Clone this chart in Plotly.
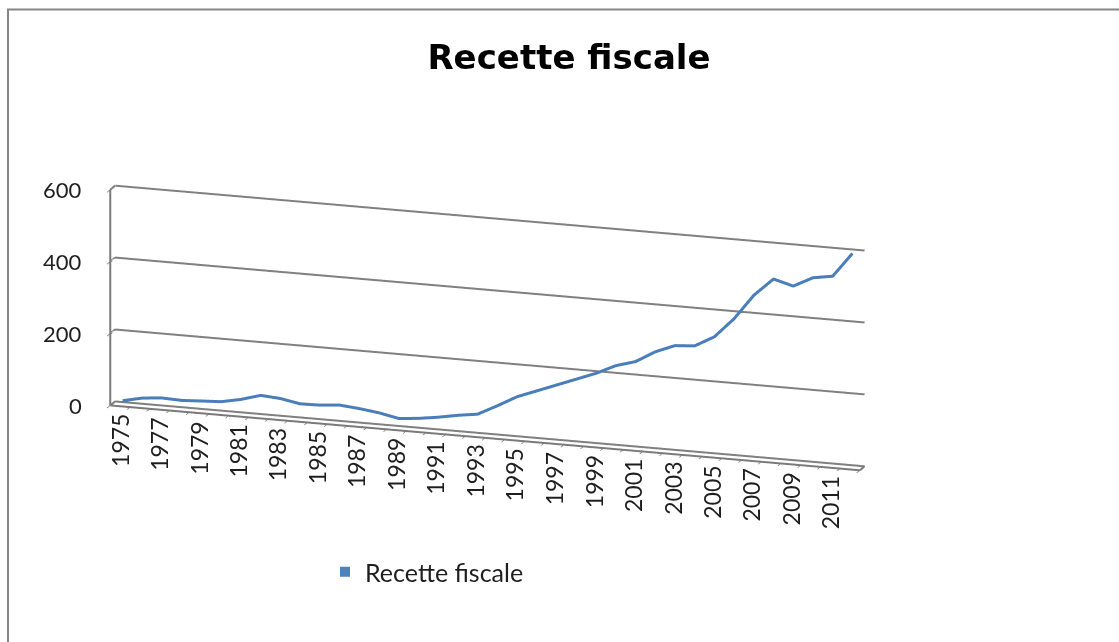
import plotly.graph_objects as go

# Tax revenue series, one value per year
years = list(range(1975, 2013))
recette_fiscale = [10, 22, 27, 25, 28, 31, 42, 58, 54, 44,
                   45, 50, 45, 38, 27, 32, 40, 50, 58, 86,
                   116, 137, 158, 179, 200, 226, 242, 274, 296, 300,
                   330, 385, 455, 505, 490, 518, 527, 595]
value_ticks = [0, 200, 400, 600]
labelled_years = [y for y in years if y % 2]   # every other year is labelled
series_name = "Recette fiscale"
title_text = "Recette fiscale"

W, H = 1119, 642
GRID = "#808080"
AXIS = "#7a7a7a"
LINE_BLUE = "#4A7EBB"
KEY_BLUE = "#4F81BD"
TEXT = "#1e1e1e"
year_font = dict(family="Lato, Calibri, sans-serif", size=23, color=TEXT)
value_font = dict(family="Lato, Calibri, sans-serif", size=22, color=TEXT)

x_lo, x_hi = years[0] - 0.5, years[-1] + 0.5        # category band edges
boundaries = [y - 0.5 for y in years] + [x_hi]       # tick marks between categories
DEPTH_FRONT, DEPTH_BACK, DEPTH_MID = 0.0, 1.0, 0.5

fig = go.Figure()

# horizontal gridlines: short run along the side wall, then across the back wall
gx, gy, gz = [], [], []
for v in value_ticks:
    gx += [x_lo, x_lo, x_hi, None]
    gy += [DEPTH_FRONT, DEPTH_BACK, DEPTH_BACK, None]
    gz += [v, v, v, None]
fig.add_trace(go.Scatter3d(x=gx, y=gy, z=gz, mode="lines",
                           line=dict(color=GRID, width=4),
                           connectgaps=False, showlegend=False, hoverinfo="skip"))

# floor slab outline and the vertical value axis
fx = [x_lo, x_hi, x_hi, None, x_lo, x_lo]
fy = [DEPTH_FRONT, DEPTH_FRONT, DEPTH_BACK, None, DEPTH_FRONT, DEPTH_FRONT]
fz = [0, 0, 0, None, 0, value_ticks[-1]]
fig.add_trace(go.Scatter3d(x=fx, y=fy, z=fz, mode="lines",
                           line=dict(color=AXIS, width=4),
                           connectgaps=False, showlegend=False, hoverinfo="skip"))

# the series ribbon, placed in the middle of the chart depth
fig.add_trace(go.Scatter3d(
    x=years, y=[DEPTH_MID] * len(years), z=recette_fiscale,
    mode="lines", line=dict(color=LINE_BLUE, width=6),
    showlegend=False, hoverinfo="skip",
))

# legend key (square swatch, as in the spreadsheet legend)
fig.add_trace(go.Scatter(
    x=[None], y=[None], mode="markers", name=series_name,
    marker=dict(symbol="square", size=10, color=KEY_BLUE),
))

# rotated year labels hanging below the front edge of the floor
year_annotations = [dict(x=y, y=DEPTH_FRONT, z=0, text=str(y), textangle=-90,
                         showarrow=False, xanchor="center", yanchor="top",
                         yshift=-6, font=year_font)
                    for y in labelled_years]
# value labels left of the vertical axis
value_annotations = [dict(x=x_lo, y=DEPTH_FRONT, z=v, text=str(v),
                          showarrow=False, xanchor="right", yanchor="middle",
                          xshift=-26, font=value_font)
                     for v in value_ticks]

fig.update_layout(
    width=W, height=H,
    margin=dict(l=0, r=0, t=0, b=0),
    paper_bgcolor="white", plot_bgcolor="white",
    hovermode=False,
    title=dict(text=title_text, x=569 / W, xanchor="center",
               y=1 - 57 / H, yanchor="middle",
               font=dict(family="DejaVu Sans", size=34, color="black", weight="bold")),
    xaxis=dict(visible=False), yaxis=dict(visible=False),
    showlegend=True,
    legend=dict(x=325 / W, y=1 - 572 / H, xanchor="left", yanchor="middle",
                orientation="h", bgcolor="rgba(0,0,0,0)",
                font=dict(family="Lato, Calibri, sans-serif", size=25, color=TEXT)),
    scene=dict(
        domain=dict(x=[0, 0.871], y=[0.0, 0.978]),
        xaxis=dict(range=[x_lo, x_hi], tickmode="array",
                   tickvals=boundaries, showticklabels=False,
                   showgrid=False, zeroline=False, showbackground=False,
                   showline=False,
                   ticks="outside", ticklen=7, tickcolor=AXIS, tickwidth=2,
                   showspikes=False, title=dict(text="")),
        yaxis=dict(range=[DEPTH_FRONT, DEPTH_BACK], showgrid=False, zeroline=False,
                   showbackground=False, showticklabels=False, ticks="",
                   showline=False, showspikes=False, title=dict(text="")),
        zaxis=dict(range=[0, value_ticks[-1]], tickmode="array", tickvals=value_ticks,
                   showticklabels=False, showgrid=False,
                   zeroline=False, showbackground=False, showline=False,
                   ticks="outside", ticklen=8, tickcolor=AXIS, tickwidth=2,
                   showspikes=False, title=dict(text="")),
        aspectmode="manual",
        aspectratio=dict(x=2.51, y=0.05, z=0.713),
        camera=dict(projection=dict(type="orthographic"),
                    eye=dict(x=1.42, y=-4.37, z=1.27),
                    center=dict(x=0, y=0, z=0),
                    up=dict(x=0, y=0, z=1)),
        annotations=year_annotations + value_annotations,
    ),
    shapes=[dict(type="rect", xref="paper", yref="paper",
                 x0=8 / W, x1=1.02, y0=-0.02, y1=1 - 9.5 / H,
                 line=dict(color="#868686", width=2))],
)

fig.write_html("out.html", config=dict(displayModeBar=False))
